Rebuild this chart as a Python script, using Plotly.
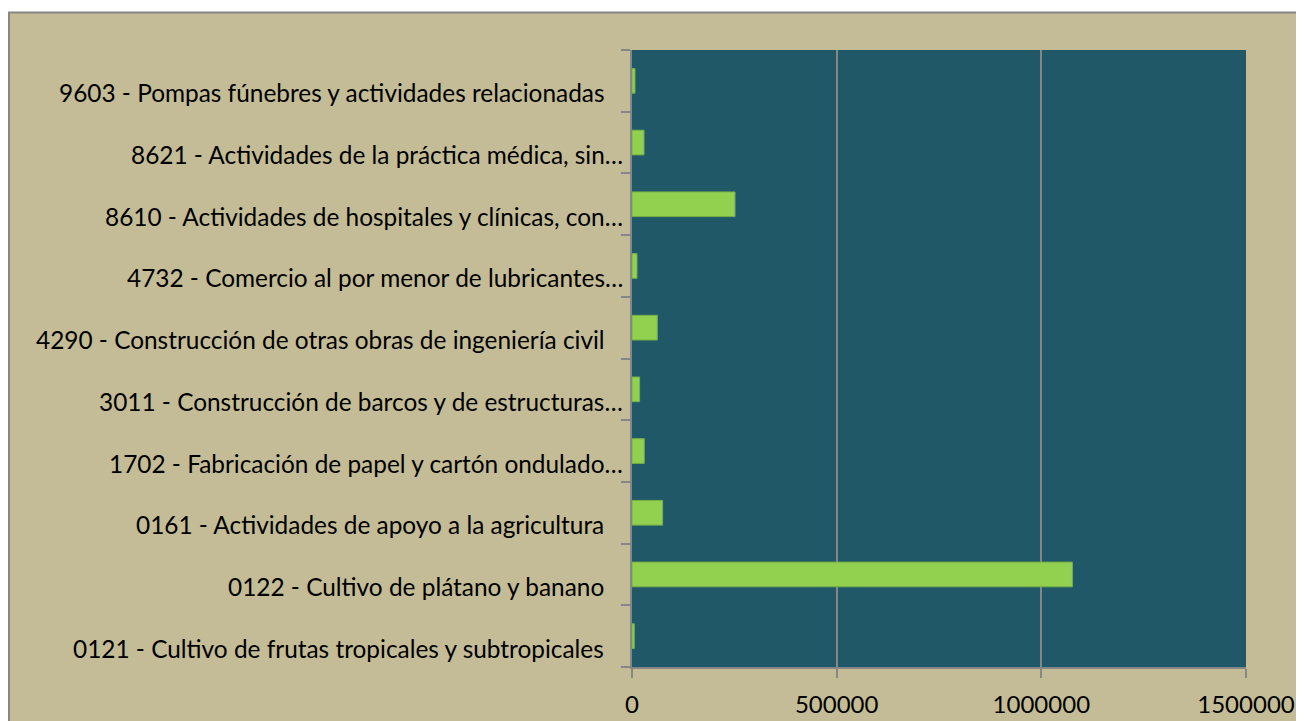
import plotly.graph_objects as go

# categories (bottom to top) and values
codigos = [
    "0121 - Cultivo de frutas tropicales y subtropicales",
    "0122 - Cultivo de plátano y banano",
    "0161 - Actividades de apoyo a la agricultura",
    "1702 - Fabricación de papel y cartón ondulado…",
    "3011 - Construcción de barcos y de estructuras…",
    "4290 - Construcción de otras obras de ingeniería civil",
    "4732 - Comercio al por menor de lubricantes…",
    "8610 - Actividades de hospitales y clínicas, con…",
    "8621 - Actividades de la práctica médica, sin…",
    "9603 - Pompas fúnebres y actividades relacionadas",
]
valores = [5600, 1076000, 74800, 30000, 18600, 61800, 12200, 251600, 29300, 7300]
x_ticks = [0, 500000, 1000000, 1500000]

tan = "#C4BC96"
teal = "#215868"
gris = "#868686"

fig = go.Figure()
fig.add_trace(go.Bar(
    x=valores, y=codigos, orientation="h", width=0.4,
    marker=dict(color="#92D050", line=dict(color="#76B043", width=1)),
))

# page body has an 8px margin, so the figure is a bit smaller than the window
W, H = 1296, 713
ml, mr, mt, mb = 624, 58, 42, 54
pw, ph = W - ml - mr, H - mt - mb

def px_x(p):
    return (p - ml) / pw

def px_y(p):
    return (H - mb - p) / ph

# category labels sit a little under the bars, like in the Excel original
for c in codigos:
    txt = c if c.endswith("…") else c + "\u00a0" * 3
    fig.add_annotation(
        x=0, xref="paper", y=c, yref="y", text=txt, showarrow=False,
        xanchor="right", yanchor="middle", xshift=-7, yshift=-12,
        font=dict(family="Lato", size=24.4, color="black"),
    )

fig.update_layout(
    width=W, height=H,
    margin=dict(l=ml, r=mr, t=mt, b=mb),
    paper_bgcolor="white", plot_bgcolor=teal,
    font=dict(family="Lato", size=24, color="black"),
    showlegend=False,
    shapes=[
        dict(type="rect", xref="paper", yref="paper", layer="below",
             x0=px_x(1), x1=px_x(1320), y0=px_y(740), y1=px_y(4.5),
             fillcolor=tan, line=dict(color=gris, width=2)),
        dict(type="rect", xref="paper", yref="paper", layer="below",
             x0=0, x1=1, y0=0, y1=1, fillcolor=teal, line=dict(width=0)),
    ],
)
fig.update_xaxes(
    range=[0, 1500000], tickvals=x_ticks, tickformat="d",
    showgrid=True, gridcolor=gris, gridwidth=1.5,
    showline=True, linecolor=gris, linewidth=2,
    ticks="outside", ticklen=9, tickcolor=gris, tickwidth=2,
    ticklabelstandoff=6, zeroline=False, automargin=False,
)
fig.update_yaxes(
    showticklabels=False, automargin=False,
    tickson="boundaries", ticks="outside", ticklen=9, tickcolor=gris, tickwidth=2,
    showline=True, linecolor=gris, linewidth=2, showgrid=False,
)

fig.write_html("out.html")
